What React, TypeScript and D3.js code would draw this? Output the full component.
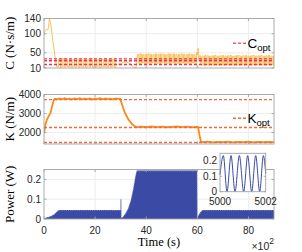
import React, { useRef, useEffect } from "react";
import * as d3 from "d3";

// time axis (x10^2 s)
const timeTicks = [0, 20, 40, 60, 80];

// damping C (N·s/m)
const cTicks = [10, 50, 100, 140];
const cOpt = [34, 29, 19];
const cRiseT = [0, 0.5, 1, 1.4, 1.8, 2.1, 2.6, 3.5, 4.3, 5];
const cRiseV = [100, 108, 112, 109, 118, 140, 128, 80, 40, 13];
// oscillating parts, read as alternating high / low levels
const cBand1 = [13, 33, 12, 34, 13, 33, 13, 32, 12, 33, 13, 34, 12, 33, 13, 33, 12, 32, 13, 34, 12, 33, 13, 33, 12, 33, 13, 34, 12, 32, 13, 33, 12, 33];
const cDipT = [28.8, 30, 31, 32, 33, 34, 35, 36, 36.6];
const cDipV = [20, 21, 25, 26, 24, 19, 12, 10, 46];
const cBand2 = [46, 22, 47, 23, 45, 22, 46, 21, 47, 22, 46, 23, 45, 22, 47, 22, 46, 21, 47, 23, 46, 22, 45, 22, 47, 21, 46, 23, 47, 22, 45, 22, 46, 21, 47, 23, 46, 22, 45, 22, 47, 21, 46, 23, 45, 22, 47];
const cJumpT = [59.6, 59.9, 60.1, 60.3, 60.5, 60.8];
const cJumpV = [47, 52, 45, 62, 30, 42];
const cBand3 = [42, 18, 41, 17, 43, 18, 42, 17, 41, 18, 42, 17, 43, 18, 41, 17, 42, 18, 43, 17, 41, 18, 42, 17, 43, 18, 41, 17, 42, 18, 43, 17, 41, 18, 42, 17, 43, 18, 41, 17, 42, 18, 43, 17, 41, 18, 42, 17, 43, 18, 41, 17, 42, 18, 43, 17, 41, 18, 42];
const cBandStart = [5, 36.6, 60.8];
const cBandStep = [0.7, 0.5, 0.5];

// stiffness K (N/m)
const kTicks = [2000, 3000, 4000];
const kOpt = [3730, 2270, 1480];
const kT = [0, 0.2, 0.6, 1.2, 2, 2.6, 3.2, 3.8, 4.3, 5, 6, 7, 8, 9, 10, 11, 12, 13, 14, 15, 16, 17, 18, 19, 20, 21, 22, 23, 24, 25, 26, 27, 28, 29, 29.8, 30.6, 31.7, 33, 34.4, 35.6, 36.5, 38, 40, 42, 44, 46, 48, 50, 52, 54, 56, 58, 60.3, 60.8, 61.4, 62.5, 64, 66, 68, 70, 72, 74, 76, 78, 80, 82, 84, 86, 88, 90];
const kV = [1980, 2100, 2450, 2700, 2900, 3050, 3400, 3700, 3770, 3740, 3790, 3750, 3800, 3760, 3780, 3740, 3790, 3760, 3800, 3750, 3780, 3760, 3790, 3740, 3780, 3770, 3800, 3750, 3790, 3760, 3780, 3740, 3790, 3770, 3780, 3450, 3020, 2700, 2450, 2320, 2290, 2310, 2280, 2320, 2290, 2310, 2280, 2300, 2320, 2290, 2310, 2280, 2300, 1900, 1520, 1500, 1520, 1490, 1510, 1500, 1520, 1490, 1510, 1500, 1520, 1490, 1510, 1500, 1510, 1500];

// power envelope (W)
const pTicks = [0, 0.1, 0.2];
const pT = [0, 1, 2, 3, 4, 4.8, 5.4, 6, 30, 30, 30.2, 30.25, 31, 32, 33, 34, 35, 35.7, 36.3, 59.9, 60, 60.6, 61.3, 62, 90];
const pV = [0.004, 0.007, 0.011, 0.016, 0.024, 0.034, 0.042, 0.045, 0.045, 0.1, 0.1, 0.005, 0.012, 0.03, 0.055, 0.095, 0.155, 0.21, 0.245, 0.245, 0.006, 0.022, 0.036, 0.045, 0.045];

// inset: zoom on t = 5000..5002 s
const inTicksX = [5000, 5002];
const inTicksY = [0, 0.1, 0.2];
const inT = [5000, 5000.146, 5000.307, 5000.482, 5000.657, 5000.847, 5001.036, 5001.212, 5001.387, 5001.562, 5001.737, 5001.898, 5002];
const inV = [0.11, 0.235, 0, 0.235, 0, 0.235, 0, 0.235, 0, 0.235, 0, 0.235, 0.12];

const sans = "'Liberation Sans', Arial, Helvetica, sans-serif";
const serif = "'Liberation Serif', 'Times New Roman', serif";

const App = () => {
	const svgRef = useRef<SVGSVGElement | null>(null);

	useEffect(() => {
		if (!svgRef.current) return;
		const svg = d3.select(svgRef.current);
		svg.selectAll("*").remove();

		const left = 44;
		const right = 274;
		const x = d3.scaleLinear().domain([0, 90]).range([left, right]);
		const yC = d3.scaleLinear().domain([10, 140]).range([68, 18.5]);
		const yK = d3.scaleLinear().domain([1400, 4000]).range([144, 94.5]);
		const yP = d3.scaleLinear().domain([0, 0.25]).range([219, 169.5]);

		const boxColor = "#a3a3a3";
		const gridColor = "#e8e8e8";
		const tickLen = 2.5;

		const defs = svg.append("defs");

		const frameBack = (y: any, yTicks: number[], id: string) => {
			const [bottom, top] = y.range();
			defs.append("clipPath").attr("id", id)
				.append("rect").attr("x", left).attr("y", top)
				.attr("width", right - left).attr("height", bottom - top);
			svg.append("rect")
				.attr("x", left).attr("y", top)
				.attr("width", right - left).attr("height", bottom - top)
				.attr("fill", "#fff");
			const d = y.domain();
			svg.append("g")
				.selectAll("line")
				.data(yTicks.filter((v) => v !== d[0] && v !== d[1]))
				.join("line")
				.attr("x1", left).attr("x2", right)
				.attr("y1", (v: number) => y(v)).attr("y2", (v: number) => y(v))
				.attr("stroke", gridColor).attr("stroke-width", 0.8);
			svg.append("g")
				.selectAll("line")
				.data(timeTicks.filter((v) => v !== 0))
				.join("line")
				.attr("x1", (v) => x(v)).attr("x2", (v) => x(v))
				.attr("y1", top).attr("y2", bottom)
				.attr("stroke", gridColor).attr("stroke-width", 0.8);
		};

		const frameFront = (y: any, yTicks: number[], showX: boolean, fmt: (v: number) => string) => {
			const [bottom, top] = y.range();
			const g = svg.append("g");
			g.append("rect")
				.attr("x", left).attr("y", top)
				.attr("width", right - left).attr("height", bottom - top)
				.attr("fill", "none").attr("stroke", boxColor).attr("stroke-width", 0.9);
			yTicks.forEach((v) => {
				g.append("line").attr("x1", left).attr("x2", left + tickLen)
					.attr("y1", y(v)).attr("y2", y(v)).attr("stroke", boxColor).attr("stroke-width", 0.9);
				g.append("line").attr("x1", right).attr("x2", right - tickLen)
					.attr("y1", y(v)).attr("y2", y(v)).attr("stroke", boxColor).attr("stroke-width", 0.9);
				g.append("text")
					.attr("x", left - 3).attr("y", y(v)).attr("dy", "0.35em")
					.attr("text-anchor", "end")
					.style("font-family", sans).style("font-size", "10px")
					.attr("fill", "#262626")
					.text(fmt(v));
			});
			timeTicks.forEach((v) => {
				g.append("line").attr("x1", x(v)).attr("x2", x(v))
					.attr("y1", bottom).attr("y2", bottom - tickLen).attr("stroke", boxColor).attr("stroke-width", 0.9);
				g.append("line").attr("x1", x(v)).attr("x2", x(v))
					.attr("y1", top).attr("y2", top + tickLen).attr("stroke", boxColor).attr("stroke-width", 0.9);
				if (showX) {
					g.append("text")
						.attr("x", x(v)).attr("y", bottom + 14.5)
						.attr("text-anchor", "middle")
						.style("font-family", sans).style("font-size", "10px")
						.attr("fill", "#262626")
						.text(String(v));
				}
			});
		};

		const yLabel = (y: any, label: string) => {
			const [bottom, top] = y.range();
			svg.append("text")
				.attr("transform", `translate(14,${(bottom + top) / 2}) rotate(-90)`)
				.attr("text-anchor", "middle")
				.style("font-family", serif).style("font-size", "13px")
				.attr("fill", "#000")
				.text(label);
		};

		const legend = (yPos: number, name: string, color: string) => {
			svg.append("line")
				.attr("x1", 233).attr("x2", 247).attr("y1", yPos).attr("y2", yPos)
				.attr("stroke", color).attr("stroke-width", 1.4).attr("stroke-dasharray", "3 2");
			const t = svg.append("text")
				.attr("x", 247.5).attr("y", yPos + 4.5)
				.style("font-family", sans).style("font-size", "13.5px")
				.attr("fill", "#000");
			t.append("tspan").text(name);
			t.append("tspan").attr("dy", 3.5).style("font-size", "9.5px").text("opt");
		};

		// ---- C panel ----
		frameBack(yC, cTicks, "clipC");
		const gC = svg.append("g").attr("clip-path", "url(#clipC)");
		const cColor = "#f9bf55";
		const cLine = d3.line<[number, number]>().x((d) => x(d[0])).y((d) => yC(d[1]));
		gC.append("path")
			.datum(cRiseT.map((t, i) => [t, cRiseV[i]] as [number, number]))
			.attr("d", cLine).attr("fill", "none").attr("stroke", cColor).attr("stroke-width", 1);
		[cBand1, cBand2, cBand3].forEach((band, b) => {
			const pts = band.map((v, i) => [cBandStart[b] + i * cBandStep[b], v] as [number, number]);
			gC.append("path")
				.datum(pts)
				.attr("d", cLine.curve(d3.curveStepAfter))
				.attr("fill", "none").attr("stroke", cColor).attr("stroke-width", 1);
			cLine.curve(d3.curveLinear);
		});
		gC.append("path")
			.datum(cDipT.map((t, i) => [t, cDipV[i]] as [number, number]))
			.attr("d", cLine).attr("fill", "none").attr("stroke", cColor).attr("stroke-width", 1);
		gC.append("path")
			.datum(cJumpT.map((t, i) => [t, cJumpV[i]] as [number, number]))
			.attr("d", cLine).attr("fill", "none").attr("stroke", cColor).attr("stroke-width", 1);
		gC.selectAll(".opt").data(cOpt).join("line")
			.attr("x1", left).attr("x2", right)
			.attr("y1", (v) => yC(v)).attr("y2", (v) => yC(v))
			.attr("stroke", "#e8364c").attr("stroke-width", 1.4).attr("stroke-dasharray", "3 2");
		frameFront(yC, cTicks, false, (v) => String(v));
		yLabel(yC, "C (N·s/m)");
		legend(43.3, "C", "#ee5f70");

		// ---- K panel ----
		frameBack(yK, kTicks, "clipK");
		const gK = svg.append("g").attr("clip-path", "url(#clipK)");
		gK.append("path")
			.datum(kT.map((t, i) => [t, kV[i]] as [number, number]))
			.attr("d", d3.line<[number, number]>().x((d) => x(d[0])).y((d) => yK(d[1])))
			.attr("fill", "none").attr("stroke", "#fb8a17").attr("stroke-width", 1.8);
		gK.selectAll(".opt").data(kOpt).join("line")
			.attr("x1", left).attr("x2", right)
			.attr("y1", (v) => yK(v)).attr("y2", (v) => yK(v))
			.attr("stroke", "#f26a35").attr("stroke-width", 1.4).attr("stroke-dasharray", "3 2");
		frameFront(yK, kTicks, false, (v) => String(v));
		yLabel(yK, "K (N/m)");
		legend(118.3, "K", "#f26a35");

		// ---- Power panel ----
		frameBack(yP, pTicks, "clipP");
		const gP = svg.append("g").attr("clip-path", "url(#clipP)");
		const pData = pT.map((t, i) => [t, pV[i]] as [number, number]);
		gP.append("path")
			.datum(pData)
			.attr("d", d3.area<[number, number]>().x((d) => x(d[0])).y0(yP(0)).y1((d) => yP(d[1])))
			.attr("fill", "#3b4ba5");
		gP.append("path")
			.datum(pData)
			.attr("d", d3.line<[number, number]>().x((d) => x(d[0])).y((d) => yP(d[1]) + 0.5))
			.attr("fill", "none").attr("stroke", "#8892cf").attr("stroke-width", 0.8)
			.attr("stroke-dasharray", "1 1.2");
		frameFront(yP, pTicks, true, (v) => (v === 0 ? "0" : String(v)));
		yLabel(yP, "Power (W)");

		svg.append("text")
			.attr("x", (left + right) / 2).attr("y", 245.5)
			.attr("text-anchor", "middle")
			.style("font-family", serif).style("font-size", "12.5px")
			.text("Time (s)");
		const ex = svg.append("text")
			.attr("x", right).attr("y", 249.5)
			.attr("text-anchor", "end")
			.style("font-family", sans).style("font-size", "10.5px")
			.attr("fill", "#262626");
		ex.append("tspan").text("×10");
		ex.append("tspan").attr("dy", -6).style("font-size", "8.5px").text("2");

		// ---- inset ----
		const xi = d3.scaleLinear().domain([5000, 5002]).range([220, 265.7]);
		const yi = d3.scaleLinear().domain([0, 0.25]).range([191.7, 153.3]);
		svg.append("rect")
			.attr("x", 220).attr("y", 153.3).attr("width", 45.7).attr("height", 38.4)
			.attr("fill", "#fff");
		svg.append("path")
			.datum(inT.map((t, i) => [t, inV[i]] as [number, number]))
			.attr("d", d3.line<[number, number]>().x((d) => xi(d[0])).y((d) => yi(d[1])).curve(d3.curveMonotoneX))
			.attr("fill", "none").attr("stroke", "#3b4ba5").attr("stroke-width", 1);
		svg.append("rect")
			.attr("x", 220).attr("y", 153.3).attr("width", 45.7).attr("height", 38.4)
			.attr("fill", "none").attr("stroke", boxColor).attr("stroke-width", 0.9);
		inTicksY.forEach((v) => {
			svg.append("line").attr("x1", 220).attr("x2", 222).attr("y1", yi(v)).attr("y2", yi(v))
				.attr("stroke", boxColor).attr("stroke-width", 0.9);
			svg.append("line").attr("x1", 265.7).attr("x2", 263.7).attr("y1", yi(v)).attr("y2", yi(v))
				.attr("stroke", boxColor).attr("stroke-width", 0.9);
			svg.append("text")
				.attr("x", 217).attr("y", yi(v)).attr("dy", "0.35em")
				.attr("text-anchor", "end")
				.style("font-family", sans).style("font-size", "10px")
				.attr("fill", "#262626")
				.text(v === 0 ? "0" : String(v));
		});
		inTicksX.forEach((v) => {
			svg.append("text")
				.attr("x", xi(v)).attr("y", 205)
				.attr("text-anchor", "middle")
				.style("font-family", sans).style("font-size", "10px")
				.attr("fill", "#262626")
				.text(String(v));
		});
	}, []);

	return (
		<svg
			ref={svgRef}
			width={302}
			height={252}
			style={{ position: "absolute", left: 0, top: 0, background: "#fff" }}
		/>
	);
};

export default App;
